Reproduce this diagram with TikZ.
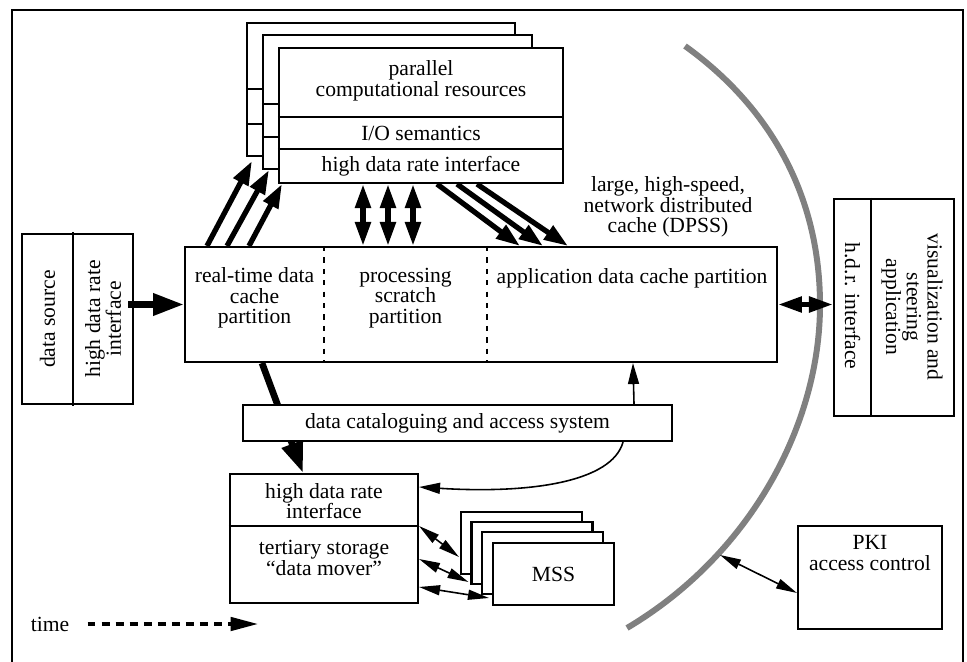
\documentclass[tikz,border=0pt]{standalone}
\usepackage{fontspec}
\setmainfont{Liberation Serif}
\usetikzlibrary{arrows.meta}
\usetikzlibrary{positioning}
\tikzset{box/.style = {draw, line width=1.2pt, fill=white, inner sep=0pt,
                       font=\fontsize{12.3}{11.8}\selectfont},
         txt/.style = {font=\fontsize{12.3}{11.8}\selectfont, align=center, inner sep=0pt},
         rule/.style = {line width=1.2pt},
         fat/.style = {line width=3pt, -{Triangle[length=0.48cm, width=0.32cm]}},
         fatter/.style = {line width=3.8pt, -{Triangle[length=0.62cm, width=0.42cm]}},
         fatboth/.style = {line width=3pt,
                           {Triangle[length=0.48cm, width=0.3cm]}-{Triangle[length=0.48cm, width=0.3cm]}},
         slim/.style = {line width=0.9pt, -{Triangle[length=0.42cm, width=0.22cm]}},
         slimboth/.style = {line width=0.9pt,
                            {Triangle[length=0.42cm, width=0.2cm]}-{Triangle[length=0.42cm, width=0.2cm]}}}

\begin{document}
\begin{tikzpicture}[x=0.02cm, y=-0.02cm]
  \useasboundingbox (0,0) rectangle (967,662);
  \draw[rule] (12,662) -- (12,10) -- (963,10) -- (963,662);

  % boundary of the distributed cache
  \draw[line width=3.4pt, gray] (685,46) .. controls (774,110) and (820,200) .. (820,305)
        .. controls (820,425) and (750,555) .. (627,628);
  \coordinate (arcpt) at (720,555);

  % parallel computational resources
  \node[box, minimum width=5.36cm, minimum height=2.66cm] (back) at (381,89.5) {};
  \draw[rule] (back.west |- 0,89) -- (back.east |- 0,89);
  \draw[rule] (back.west |- 0,124) -- (back.east |- 0,124);
  \node[box, minimum width=5.38cm, minimum height=2.68cm] (mid) at (397.5,102) {};
  \draw[rule] (mid.west |- 0,104) -- (mid.east |- 0,104);
  \draw[rule] (mid.west |- 0,137) -- (mid.east |- 0,137);
  \node[box, minimum width=5.68cm, minimum height=2.70cm] (front) at (421,115.5) {};
  \draw[rule] (front.west |- 0,117) -- (front.east |- 0,117);
  \draw[rule] (front.west |- 0,149) -- (front.east |- 0,149);
  \node[txt] (par) at (421,81) {parallel\\computational resources};
  \node[txt] (io) at (421,133) {I/O semantics};
  \node[txt] (hdri) at (421,166) {high data rate interface};

  % cache
  \node[box, minimum width=11.84cm, minimum height=2.30cm] (cache) at (481,304.5) {};
  \draw[rule, dash pattern=on 3pt off 3.5pt] (324,0 |- cache.north) -- (324,0 |- cache.south);
  \draw[rule, dash pattern=on 3pt off 3.5pt] (487,0 |- cache.north) -- (487,0 |- cache.south);
  \node[txt] (rt) at (254.5,298) {real-time data\\cache\\partition};
  \node[txt] (scr) at (405.5,298) {processing\\scratch\\partition};
  \node[txt] (app) at (632,278) {application data cache partition};
  \node[txt] (dpss) at (668,207) {large, high-speed,\\network distributed\\cache (DPSS)};

  % data source
  \node[box, minimum width=2.22cm, minimum height=3.40cm] (ds) at (77.5,319) {};
  \draw[rule] (73,232) -- (73,406);
  \node[txt, rotate=90] (dsrc) at (47.5,319) {data source};
  \node[txt, rotate=90] (dshdr) at (103,319) {high data rate\\interface};
  \coordinate (dsout) at (128,304.5);

  % tertiary storage
  \node[box, minimum width=3.76cm, minimum height=2.58cm] (tert) at (324,538.5) {};
  \draw[rule] (tert.west |- 0,526) -- (tert.east |- 0,526);
  \node[txt] (thdr) at (324,501) {high data rate\\interface};
  \node[txt] (tmov) at (324,558) {tertiary storage\\“data mover”};

  \draw[fatter] ([xshift=1.56cm]cache.south west) -- ([xshift=-0.42cm]tert.north);

  % catalogue
  \node[box, minimum width=8.58cm, minimum height=0.72cm] (cat) at (457.5,423) {data cataloguing and access system};

  % MSS
  \node[box, minimum width=2.42cm, minimum height=1.24cm] (mssA) at (521.5,543) {};
  \node[box, minimum width=2.42cm, minimum height=1.24cm] (mssB) at (532,553) {};
  \node[box, minimum width=2.42cm, minimum height=1.24cm] (mssC) at (542.5,563) {};
  \node[box, minimum width=2.42cm, minimum height=1.24cm] (mssD) at (553.5,574) {MSS};

  % visualization
  \node[box, minimum width=2.4cm, minimum height=4.34cm] (vis) at (894,307.5) {};
  \draw[rule] (871,0 |- vis.north) -- (871,0 |- vis.south);
  \node[txt, rotate=-90] (vhdr) at (852.5,306) {h.d.r. interface};
  \node[txt, rotate=-90] (vapp) at (912,307) {visualization and\\steering\\application};

  % PKI
  \node[box, minimum width=2.88cm, minimum height=2.06cm] (pki) at (870,577.5) {};
  \node[txt] (pkit) at (870,553) {PKI\\access control};

  % time
  \node[txt] (time) at (50,624) {time};
  \coordinate (timeend) at (258,624);
  \draw[line width=1.9pt, dash pattern=on 4.5pt off 3.5pt, -{Triangle[length=0.55cm, width=0.27cm]}]
        ([xshift=0.36cm]time.east) -- (timeend);

  % arrows
  \draw[fat] ([xshift=0.46cm]cache.north west) -- ([xshift=0.12cm, yshift=-0.08cm]back.south west);
  \draw[fat] ([xshift=0.86cm]cache.north west) -- ([xshift=0.14cm]mid.south west);
  \draw[fat] ([xshift=1.30cm]cache.north west) -- ([xshift=0.08cm]front.south west);
  \draw[fatboth] (363,0 |- front.south) -- (363,0 |- cache.north);
  \draw[fatboth] (388,0 |- front.south) -- (388,0 |- cache.north);
  \draw[fatboth] (413,0 |- front.south) -- (413,0 |- cache.north);
  \draw[fat] (437,0 |- front.south) -- (520,0 |- cache.north);
  \draw[fat] (457,0 |- front.south) -- (543,0 |- cache.north);
  \draw[fat] (477,0 |- front.south) -- (568,0 |- cache.north);
  \draw[fatter] (dsout) -- (cache.west);
  \draw[fatboth] (cache.east) -- (cache.east -| vis.west);
  \draw[slim] ([xshift=-0.78cm]cat.north east) -- ([xshift=3.04cm]cache.south);
  \draw[slim] ([xshift=-1.0cm]cat.south east) .. controls (612,482) and (530,494) .. ([yshift=1.03cm]tert.east);
  \draw[slimboth] ([yshift=0.25cm]tert.east) -- ([xshift=-0.02cm, yshift=-0.28cm]mssA.west);
  \draw[slimboth] ([yshift=-0.41cm]tert.east) -- ([xshift=-0.04cm, yshift=-0.58cm]mssB.west);
  \draw[slimboth] ([yshift=-0.97cm]tert.east) -- ([xshift=-0.06cm, yshift=-0.48cm]mssD.west);
  \draw[slimboth] (arcpt) -- ([yshift=-0.31cm]pki.west);
\end{tikzpicture}
\end{document}
